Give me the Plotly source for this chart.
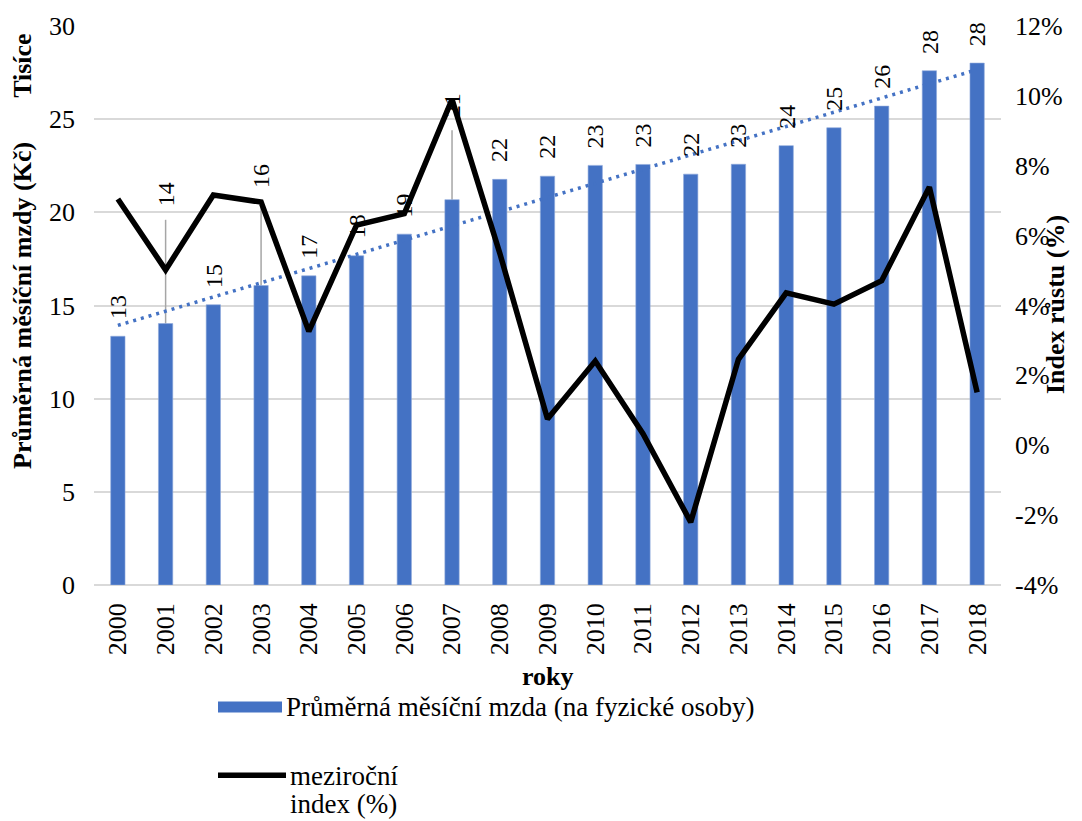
import numpy as np
import plotly.graph_objects as go

# --- data -------------------------------------------------------------
years = [str(y) for y in range(2000, 2019)]
wage_thousands = [13.35, 14.03, 15.04, 16.07, 16.59, 17.67, 18.83, 20.68, 21.77, 21.94,
                  22.52, 22.57, 22.05, 22.58, 23.58, 24.54, 25.70, 27.60, 28.01]
yoy_index_pct = [7.05, 5.02, 7.16, 6.96, 3.26, 6.30, 6.63, 9.90, 5.50, 0.75,
                 2.41, 0.33, -2.20, 2.46, 4.36, 4.04, 4.71, 7.39, 1.51]
left_ticks = [0, 5, 10, 15, 20, 25, 30]
right_ticks = [-4, -2, 0, 2, 4, 6, 8, 10, 12]
right_ticktext = [f"{t}%" for t in right_ticks]

# labels that sit higher with a leader line (label base, in thousands)
lifted_labels = {"2001": 20.2, "2003": 21.2, "2007": 25.0}

# --- styling ----------------------------------------------------------
W, H = 1082, 821
ML, MR, MT, MB = 94, 81, 24, 236
PW, PH = W - ML - MR, H - MT - MB
FONT = "Liberation Serif, Times New Roman, serif"
BLUE = "#4472C4"
GRID = "#D9D9D9"


def px(x):
    return (x - ML) / PW


def py(y):
    return (H - MB - y) / PH


# linear trend of the wages
idx = np.arange(len(years))
slope, intercept = np.polyfit(idx, wage_thousands, 1)
trend = slope * idx + intercept

fig = go.Figure()
fig.add_trace(go.Bar(
    x=years, y=wage_thousands, marker=dict(color=BLUE, line=dict(color="#8FAADC", width=0.6)),
    name="Průměrná měsíční mzda (na fyzické osoby)", showlegend=False,
))
fig.add_trace(go.Scatter(
    x=years, y=trend, mode="lines",
    line=dict(color=BLUE, width=3.5, dash="3px,5px"),
    showlegend=False, hoverinfo="skip",
))
fig.add_trace(go.Scatter(
    x=years, y=yoy_index_pct, mode="lines", yaxis="y2",
    line=dict(color="black", width=5.5),
    name="meziroční index (%)", showlegend=False,
))

label_font = dict(family=FONT, size=24, color="black")
annotations = []
shapes = []
for i, (yr, v) in enumerate(zip(years, wage_thousands)):
    label = str(int(round(v)))
    if yr in lifted_labels:
        base = lifted_labels[yr]
        annotations.append(dict(x=i, y=base, xref="x", yref="y", text=label,
                                textangle=-90, showarrow=False,
                                xanchor="center", yanchor="bottom", font=label_font))
        shapes.append(dict(type="line", xref="x", yref="y", x0=i, x1=i,
                           y0=v, y1=base - 0.6, layer="between",
                           line=dict(color="#A6A6A6", width=1.5)))
    else:
        annotations.append(dict(x=i, y=v, xref="x", yref="y", text=label,
                                textangle=-90, showarrow=False,
                                xanchor="center", yanchor="bottom", yshift=15,
                                font=label_font))

title_font = dict(family=FONT, size=26, color="black", weight="bold")
text_font = dict(family=FONT, size=27, color="black")


def paper_note(x, y, text, font, angle=0, xanchor="center"):
    return dict(x=px(x), y=py(y), xref="paper", yref="paper", text=text,
                textangle=angle, showarrow=False, xanchor=xanchor, yanchor="middle",
                font=font)


annotations += [
    paper_note(23, 64, "Tisíce", title_font, -90),
    paper_note(23, 305, "Průměrná měsíční mzdy (Kč)", title_font, -90),
    paper_note(1055, 304, "Index růstu (%)", title_font, -90),
    paper_note(548, 677, "roky", title_font),
    # legend entries
    paper_note(284, 707, "Průměrná měsíční mzda (na fyzické osoby)", text_font, xanchor="left"),
    paper_note(288, 777, "meziroční", text_font, xanchor="left"),
    paper_note(288, 805, "index (%)", text_font, xanchor="left"),
]
shapes += [
    dict(type="rect", xref="paper", yref="paper", x0=px(218), x1=px(282),
         y0=py(713), y1=py(702), fillcolor=BLUE, line=dict(width=0)),
    dict(type="line", xref="paper", yref="paper", x0=px(218), x1=px(286),
         y0=py(776), y1=py(776), line=dict(color="black", width=5.5)),
]

tick_font = dict(family=FONT, size=26, color="black")
fig.update_layout(
    width=W, height=H,
    margin=dict(l=ML, r=MR, t=MT, b=MB),
    paper_bgcolor="white", plot_bgcolor="white",
    bargap=0.7,
    showlegend=False,
    font=dict(family=FONT, size=26, color="black"),
    xaxis=dict(
        type="category", range=[-0.5, len(years) - 0.5], tickangle=-90, showgrid=False,
        showline=False, ticks="", ticklabelstandoff=12, tickfont=tick_font,
    ),
    yaxis=dict(
        range=[0, 30], tickvals=left_ticks, showgrid=True, gridcolor=GRID, gridwidth=1.5,
        zeroline=True, zerolinecolor=GRID, zerolinewidth=1.5, showline=False,
        ticks="", ticklabelstandoff=18, tickfont=tick_font,
    ),
    yaxis2=dict(
        range=[-4, 12], tickvals=right_ticks, ticktext=right_ticktext,
        overlaying="y", side="right", showgrid=False, zeroline=False, showline=False,
        ticks="", ticklabelstandoff=13, tickfont=tick_font,
    ),
    annotations=annotations,
    shapes=shapes,
)

fig.write_html("out.html")
